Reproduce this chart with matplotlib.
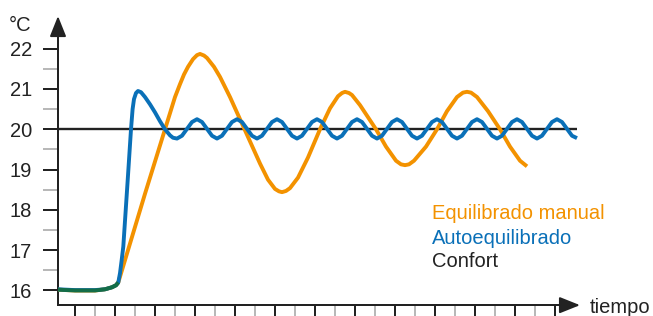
"""Temperature response: manual balancing vs self-balancing vs comfort setpoint."""

import matplotlib

matplotlib.use("Agg")
import matplotlib.pyplot as plt

plt.rcParams["font.family"] = ["Liberation Sans", "DejaVu Sans"]

ORANGE = "#F39200"
BLUE = "#0A70B8"
GREEN = "#136D48"
INK = "#222222"
GREY = "#B8B8B8"

# time in tick units (black ticks on odd values), temperature in °C
manual_t = [0.15, 1.0, 2.0, 2.5, 2.85, 3.05, 3.165, 4.5, 6.0, 6.25, 6.45, 6.65,
            6.9, 7.1, 7.25, 7.45, 7.6, 7.95, 8.25, 8.75, 9.25, 9.75, 10.25,
            10.65, 11.0, 11.2, 11.35, 11.55, 11.75, 12.15, 12.65, 13.25, 13.75,
            14.15, 14.35, 14.5, 14.7, 14.85, 15.25, 15.65, 16.05, 16.55, 17.05,
            17.3, 17.5, 17.7, 17.95, 18.55, 19.1, 19.6, 20.1, 20.4, 20.6, 20.8,
            21.1, 21.65, 22.25, 22.75, 23.25, 23.6]
manual_v = [16.02, 16.0, 16.0, 16.03, 16.08, 16.13, 16.2, 18.4, 20.8, 21.12,
            21.36, 21.55, 21.74, 21.84, 21.87, 21.83, 21.77, 21.55, 21.3, 20.8,
            20.25, 19.7, 19.15, 18.75, 18.52, 18.46, 18.44, 18.47, 18.54, 18.8,
            19.3, 20.0, 20.52, 20.82, 20.9, 20.93, 20.9, 20.85, 20.6, 20.3,
            20.0, 19.57, 19.22, 19.13, 19.11, 19.13, 19.22, 19.57, 20.0, 20.45,
            20.8, 20.91, 20.93, 20.91, 20.8, 20.45, 20.0, 19.57, 19.22, 19.08]

auto_t = [0.15, 1.0, 2.0, 2.5, 2.85, 3.05, 3.165, 3.25, 3.335, 3.415, 3.635,
          3.8, 3.88, 3.95, 4.05, 4.15, 4.3, 4.5, 4.75, 5.0, 5.25, 5.5, 5.75, 5.9,
          6.1, 6.35, 6.6, 6.85, 7.1, 7.35, 7.6, 7.85,
          8.1, 8.35, 8.6, 8.85, 9.1, 9.35, 9.6, 9.85,
          10.1, 10.35, 10.6, 10.85, 11.1, 11.35, 11.6, 11.85,
          12.1, 12.35, 12.6, 12.85, 13.1, 13.35, 13.6, 13.85,
          14.1, 14.35, 14.6, 14.85, 15.1, 15.35, 15.6, 15.85,
          16.1, 16.35, 16.6, 16.85, 17.1, 17.35, 17.6, 17.85,
          18.1, 18.35, 18.6, 18.85, 19.1, 19.35, 19.6, 19.85,
          20.1, 20.35, 20.6, 20.85, 21.1, 21.35, 21.6, 21.85,
          22.1, 22.35, 22.6, 22.85, 23.1, 23.35, 23.6, 23.85,
          24.1, 24.35, 24.6, 24.85, 25.1, 25.35, 25.6, 25.85,
          26.1]
auto_v = [16.03, 16.01, 16.01, 16.03, 16.08, 16.13, 16.2, 16.43, 16.76, 17.09,
          18.74, 20.0, 20.5, 20.75, 20.9, 20.95, 20.92, 20.8, 20.62, 20.42,
          20.2, 20.0, 19.85, 19.79,
          19.77, 19.84, 20.01, 20.18, 20.25, 20.18, 20.01, 19.84,
          19.77, 19.84, 20.01, 20.18, 20.25, 20.18, 20.01, 19.84,
          19.77, 19.84, 20.01, 20.18, 20.25, 20.18, 20.01, 19.84,
          19.77, 19.84, 20.01, 20.18, 20.25, 20.18, 20.01, 19.84,
          19.77, 19.84, 20.01, 20.18, 20.25, 20.18, 20.01, 19.84,
          19.77, 19.84, 20.01, 20.18, 20.25, 20.18, 20.01, 19.84,
          19.77, 19.84, 20.01, 20.18, 20.25, 20.18, 20.01, 19.84,
          19.77, 19.84, 20.01, 20.18, 20.25, 20.18, 20.01, 19.84,
          19.77, 19.84, 20.01, 20.18, 20.25, 20.18, 20.01, 19.84,
          19.77, 19.84, 20.01, 20.18, 20.25, 20.18, 20.01, 19.84,
          19.78]

comfort_temp = 20
shared_n = 7  # both curves coincide before the heating starts

y_major = [16, 17, 18, 19, 20, 21, 22]
y_minor = [16.5, 17.5, 18.5, 19.5, 20.5, 21.5]
x_major = [1, 3, 5, 7, 9, 11, 13, 15, 17, 19, 21, 23, 25]
x_minor = [2, 4, 6, 8, 10, 12, 14, 16, 18, 20, 22, 24]

labels = ["Equilibrado manual", "Autoequilibrado", "Confort"]
label_colors = [ORANGE, BLUE, INK]
label_y = [17.92, 17.30, 16.71]

x0, y0 = 0.15, 15.636  # where the two axes meet
FS = 14.5

fig = plt.figure(figsize=(6.53, 3.16), dpi=100)
ax = fig.add_axes([0, 0, 1, 1])
ax.set_xlim(-2.75, 29.9)
ax.set_ylim(15.367, 23.208)
ax.patch.set_alpha(0)

for side in ("top", "right"):
    ax.spines[side].set_visible(False)
ax.spines["left"].set_position(("data", x0))
ax.spines["bottom"].set_position(("data", y0))
ax.spines["left"].set_bounds(y0, 22.5)
ax.spines["bottom"].set_bounds(x0, 25.8)
for side in ("left", "bottom"):
    ax.spines[side].set_linewidth(1.44)
    ax.spines[side].set_color(INK)

ax.set_yticks(y_major)
ax.set_yticks(y_minor, minor=True)
ax.set_xticks(x_major)
ax.set_xticks(x_minor, minor=True)
ax.set_xticklabels([])
ax.tick_params(axis="y", which="both", direction="out", length=10.8, width=1.44,
               pad=8, labelsize=FS, labelcolor=INK)
ax.tick_params(axis="y", which="major", color=INK)
ax.tick_params(axis="y", which="minor", color=GREY)
ax.tick_params(axis="x", which="both", direction="out", length=9, width=1.44)
ax.tick_params(axis="x", which="major", color=INK)
ax.tick_params(axis="x", which="minor", color=GREY)

arrow = dict(arrowstyle="-|>,head_length=1.25,head_width=0.5", mutation_scale=10,
             lw=1.44, color=INK, shrinkA=0, shrinkB=0)
ax.annotate("", xy=(x0, 22.81), xytext=(x0, 22.3), arrowprops=arrow)
ax.annotate("", xy=(26.25, y0), xytext=(25.5, y0), arrowprops=arrow)

ax.hlines(comfort_temp, x0, auto_t[-1], color=INK, lw=1.7, zorder=2)
ax.plot(manual_t, manual_v, color=ORANGE, lw=2.8, solid_capstyle="butt",
        solid_joinstyle="round", zorder=3)
ax.plot(auto_t, auto_v, color=BLUE, lw=2.8, solid_capstyle="butt",
        solid_joinstyle="round", zorder=4)
ax.plot(manual_t[:shared_n], manual_v[:shared_n], color=GREEN, lw=2.8,
        solid_capstyle="butt", zorder=5)

for text, color, yy in zip(labels, label_colors, label_y):
    ax.text(18.85, yy, text, color=color, fontsize=FS, va="center", ha="left")

ax.text(-2.3, 22.58, "°C", fontsize=FS, color=INK, va="center", ha="left")
ax.text(26.75, 15.57, "tiempo", fontsize=FS, color=INK, va="center", ha="left")

fig.savefig("out.png", dpi=100)
